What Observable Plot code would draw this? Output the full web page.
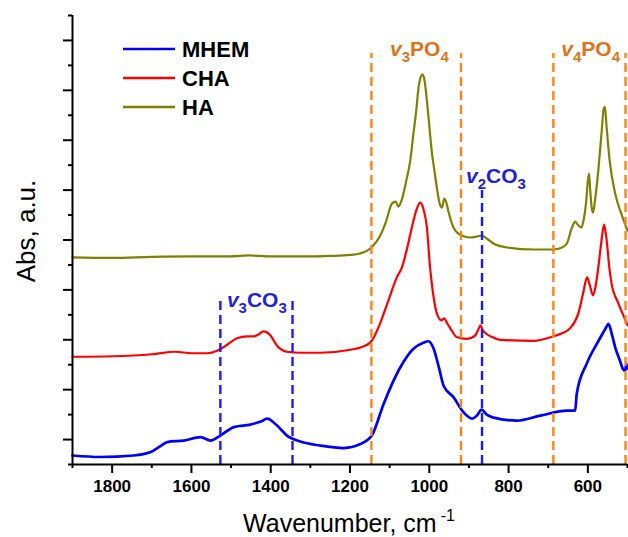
<!DOCTYPE html>
<html><head><meta charset="utf-8">
<script src="https://cdn.jsdelivr.net/npm/d3@7"></script>
<script src="https://cdn.jsdelivr.net/npm/@observablehq/plot@0.6"></script>
<style>
body{margin:0;background:#fff}
#chart{position:relative;width:628px;height:537px}
#chart svg{font-family:Arial,"Liberation Sans",sans-serif;overflow:visible}
</style>
</head><body><div id="chart"></div>
<script>
// ---- data ----
const haW = [1900,1800,1700,1600,1500,1456,1400,1300,1250,1200,1175,1146,1125,1110,1094,1085,1078,1070,1058,1048,1040,1033,1027,1021,1017,1012,1006,1000,994,987,981,973,968,962,957,951,939,930,918,897,880,868,855,838,804,737,687,665,653,640,632,624,616,610,604,600,597,594,590,587,582,573,565,560,557,553,545,531,514,500];
const haA = [4.15,4.14,4.16,4.17,4.17,4.19,4.17,4.17,4.18,4.20,4.23,4.35,4.57,4.85,5.23,5.27,5.17,5.29,5.69,6.09,6.63,7.09,7.56,7.78,7.82,7.70,7.29,6.79,6.29,5.89,5.55,5.21,5.15,5.33,5.25,5.05,4.75,4.65,4.59,4.55,4.57,4.59,4.53,4.43,4.35,4.31,4.31,4.35,4.43,4.75,4.87,4.79,4.75,4.93,5.29,5.69,5.83,5.49,5.13,5.05,5.29,5.95,6.69,7.13,7.17,6.79,6.09,5.43,4.99,4.69];

const chaW = [1900,1800,1700,1640,1600,1560,1535,1510,1485,1460,1443,1430,1418,1410,1401,1384,1359,1325,1275,1199,1157,1145,1124,1103,1082,1069,1056,1044,1033,1023,1015,1006,998,989,981,969,962,955,947,930,905,884,875,871,865,858,840,821,737,687,665,645,624,612,602,595,587,581,577,570,564,559,554,545,540,523,502,500];
const chaA = [2.16,2.17,2.21,2.26,2.23,2.23,2.28,2.40,2.53,2.57,2.57,2.61,2.67,2.65,2.59,2.38,2.26,2.24,2.24,2.30,2.40,2.48,2.83,3.29,3.75,3.95,4.33,4.75,5.09,5.25,5.13,4.75,3.95,3.35,3.03,2.89,2.93,2.83,2.73,2.55,2.52,2.59,2.73,2.79,2.69,2.63,2.55,2.50,2.48,2.57,2.63,2.73,3.03,3.43,3.75,3.59,3.39,3.55,3.75,4.19,4.59,4.81,4.59,3.89,3.62,3.23,2.83,2.79];

const mhemW = [1900,1830,1746,1703,1680,1661,1619,1577,1552,1527,1493,1451,1425,1409,1384,1359,1325,1275,1216,1174,1145,1115,1073,1040,1015,1002,989,975,964,939,914,892,880,868,855,838,779,720,653,632,628,603,573,555,548,540,531,519,512,506,503,500];
const mhemA = [0.18,0.15,0.18,0.25,0.36,0.45,0.48,0.55,0.48,0.58,0.75,0.80,0.86,0.92,0.78,0.58,0.46,0.38,0.33,0.41,0.58,1.22,1.95,2.32,2.44,2.47,2.32,1.92,1.58,1.35,1.05,0.92,0.98,1.10,1.00,0.94,0.88,0.98,1.08,1.08,1.42,2.02,2.48,2.73,2.82,2.63,2.35,2.08,1.92,1.88,2.02,1.92];

const seriesNames = ["MHEM","CHA","HA"];
const seriesColors = ["#0000ff","#ff0000","#808000"];

const po4Lines = [1146,920,687,505];
const po4Top = 8.24;
const co3Lines = [1527,1345];
const co3Top = 3.33;
const co3bLines = [867];
const co3bTop = 5.49;

const peakLabels = ["v3PO4","v4PO4","v2CO3","v3CO3"];
const peakW = [1025,593,832,1435];
const peakA = [8.33,8.33,5.77,3.30];
const peakColor = ["#dd7418","#dd7418","#1f1fe0","#1f1fe0"];
const peakParts = {
  "v3PO4":[["v","i"],["3","s"],["PO",""],["4","s"]],
  "v4PO4":[["v","i"],["4","s"],["PO",""],["4","s"]],
  "v2CO3":[["v","i"],["2","s"],["CO",""],["3","s"]],
  "v3CO3":[["v","i"],["3","s"],["CO",""],["3","s"]]
};

const xMajor = [1800,1600,1400,1200,1000,800,600];
const xMinor = [1900,1700,1500,1300,1100,900,700,500];
const yMajor = [0.5,1.5,2.5,3.5,4.5,5.5,6.5,7.5,8.5];
const yMinor = [0,1,2,3,4,5,6,7,8,9];

// ---- build ----
const mk = (W,A) => W.map((w,i)=>({w, a:A[i]}));
const ha = mk(haW,haA), cha = mk(chaW,chaA), mhem = mk(mhemW,mhemA);
const labels = peakLabels.map((l,i)=>({l, w:peakW[i], a:peakA[i], c:peakColor[i]}));
const orange = "#fb8418";
const blueDash = "#1a1aff";

const plot = Plot.plot({
  width: 628, height: 537,
  marginLeft: 72, marginRight: 1, marginTop: 15, marginBottom: 73,
  x: {domain: [1900, 500]},
  y: {domain: [0, 9]},
  marks: [
    Plot.line(ha, {x:"w", y:"a", stroke: seriesColors[2], strokeWidth: 2.2, curve: "monotone-x"}),
    Plot.line(cha, {x:"w", y:"a", stroke: seriesColors[1], strokeWidth: 2.2, curve: "monotone-x"}),
    Plot.line(mhem, {x:"w", y:"a", stroke: seriesColors[0], strokeWidth: 2.7, curve: "monotone-x"}),
    Plot.ruleX(po4Lines, {x: d=>d, y1: 0, y2: po4Top, stroke: orange, strokeWidth: 2.4, strokeDasharray: "9,5"}),
    Plot.ruleX(co3Lines, {x: d=>d, y1: 0, y2: co3Top, stroke: blueDash, strokeWidth: 2.4, strokeDasharray: "9,5"}),
    Plot.ruleX(co3bLines, {x: d=>d, y1: 0, y2: co3bTop, stroke: blueDash, strokeWidth: 2.4, strokeDasharray: "9,5"}),
    Plot.text(labels, {x:"w", y:"a", text:"l", fill: d=>d.c, fontSize: 21, fontWeight: "bold", lineAnchor: "middle"}),
    Plot.axisX({ticks: xMajor, tickSize: 9, tickPadding: 6, strokeWidth: 2, label: null,
                tickFormat: d => String(d), fontSize: 17, fontWeight: "bold", fill: "#000"}),
    Plot.axisX({ticks: xMinor, tickSize: 4, strokeWidth: 2, tickFormat: () => "", label: null}),
    Plot.axisY({ticks: yMajor, tickSize: 9, strokeWidth: 2, tickFormat: () => "", label: null}),
    Plot.axisY({ticks: yMinor, tickSize: 4, strokeWidth: 2, tickFormat: () => "", label: null}),
    Plot.ruleX([1900], {strokeWidth: 2}),
    Plot.ruleY([0], {strokeWidth: 2})
  ]
});

const svg = d3.select(plot);
// rich peak labels
svg.selectAll("text").each(function(){
  const t = d3.select(this);
  const parts = peakParts[t.text()];
  if (!parts) return;
  t.text(null);
  let sub = false;
  for (const [s,k] of parts) {
    const ts = t.append("tspan").text(s);
    if (k === "i") ts.attr("font-style","italic");
    if (k === "s") { ts.attr("font-size", 15).attr("dy", sub ? 0 : 6); sub = true; }
    else if (sub) { ts.attr("dy", -6); sub = false; }
  }
});

// axis titles
const xt = svg.append("text").attr("x", 349).attr("y", 532).attr("text-anchor","middle")
  .attr("font-size", 25).attr("fill","#000");
xt.append("tspan").text("Wavenumber, cm");
xt.append("tspan").text("-1").attr("font-size", 16).attr("dy", -11).attr("dx", 4);

svg.append("text").attr("transform","translate(35,231) rotate(-90)").attr("text-anchor","middle")
  .attr("font-size", 26).attr("fill","#000").text("Abs, a.u.");

// legend
const lg = svg.append("g");
seriesNames.forEach((n,i)=>{
  const y = 49 + i*29;
  lg.append("line").attr("x1",123).attr("x2",175).attr("y1",y).attr("y2",y)
    .attr("stroke", seriesColors[i]).attr("stroke-width", 2.6);
  lg.append("text").attr("x",182).attr("y", y+8).attr("font-size",22).attr("font-weight","bold")
    .attr("text-anchor","start").attr("fill","#000").text(n);
});

document.getElementById("chart").appendChild(plot);
</script>
</body></html>
